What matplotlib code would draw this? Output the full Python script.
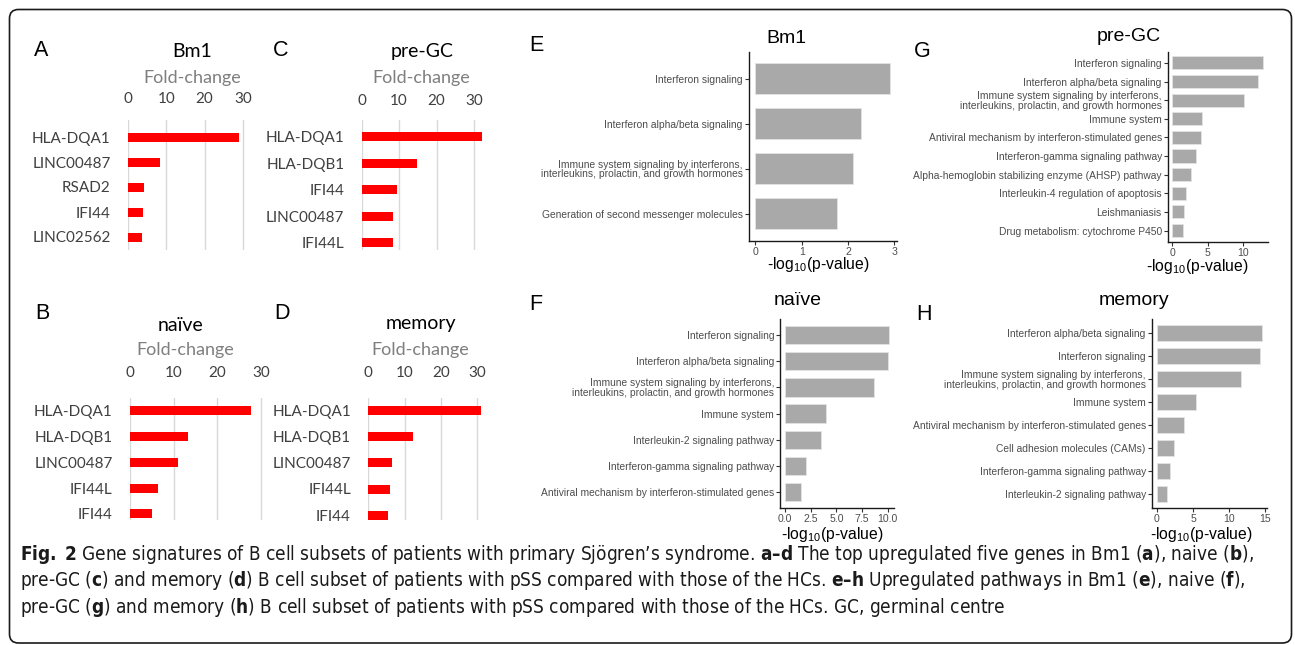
import numpy as np
import matplotlib
matplotlib.use("Agg")
import matplotlib.pyplot as plt
from matplotlib.patches import FancyBboxPatch
from matplotlib.transforms import IdentityTransform

plt.rcParams["mathtext.fontset"] = "custom"
plt.rcParams["mathtext.rm"] = "Liberation Sans"
plt.rcParams["mathtext.it"] = "Liberation Sans:italic"
plt.rcParams["mathtext.bf"] = "DejaVu Sans:weight=bold:stretch=condensed"

# ---------------- data: top upregulated genes (fold-change) ----------------
bm1_genes = ["HLA-DQA1", "LINC00487", "RSAD2", "IFI44", "LINC02562"]
bm1_fc = [29.0, 8.3, 4.2, 3.8, 3.6]

pregc_genes = ["HLA-DQA1", "HLA-DQB1", "IFI44", "LINC00487", "IFI44L"]
pregc_fc = [32.2, 14.7, 9.4, 8.5, 8.5]

naive_genes = ["HLA-DQA1", "HLA-DQB1", "LINC00487", "IFI44L", "IFI44"]
naive_fc = [27.8, 13.4, 11.1, 6.5, 5.1]

memory_genes = ["HLA-DQA1", "HLA-DQB1", "LINC00487", "IFI44L", "IFI44"]
memory_fc = [31.0, 12.4, 6.4, 6.0, 5.3]

fc_ticks = [0, 10, 20, 30]

# ---------------- data: upregulated pathways (-log10 p) ----------------
IMMUNE_SIG = "Immune system signaling by interferons,\ninterleukins, prolactin, and growth hormones"

bm1_paths = ["Interferon signaling", "Interferon alpha/beta signaling", IMMUNE_SIG,
             "Generation of second messenger molecules"]
bm1_logp = [2.91, 2.27, 2.11, 1.76]
bm1_ticks = [0, 1, 2, 3]
bm1_ticklabels = ["0", "1", "2", "3"]

pregc_paths = ["Interferon signaling", "Interferon alpha/beta signaling", IMMUNE_SIG,
               "Immune system", "Antiviral mechanism by interferon-stimulated genes",
               "Interferon-gamma signaling pathway",
               "Alpha-hemoglobin stabilizing enzyme (AHSP) pathway",
               "Interleukin-4 regulation of apoptosis", "Leishmaniasis",
               "Drug metabolism: cytochrome P450"]
pregc_logp = [12.9, 12.2, 10.1, 4.27, 4.1, 3.4, 2.6, 1.95, 1.67, 1.48]
pregc_ticks = [0, 5, 10]
pregc_ticklabels = ["0", "5", "10"]

naive_paths = ["Interferon signaling", "Interferon alpha/beta signaling", IMMUNE_SIG,
               "Immune system", "Interleukin-2 signaling pathway",
               "Interferon-gamma signaling pathway",
               "Antiviral mechanism by interferon-stimulated genes"]
naive_logp = [10.1, 10.0, 8.65, 3.93, 3.5, 2.04, 1.5]
naive_ticks = [0, 2.5, 5, 7.5, 10]
naive_ticklabels = ["0.0", "2.5", "5.0", "7.5", "10.0"]

memory_paths = ["Interferon alpha/beta signaling", "Interferon signaling", IMMUNE_SIG,
                "Immune system", "Antiviral mechanism by interferon-stimulated genes",
                "Cell adhesion molecules (CAMs)", "Interferon-gamma signaling pathway",
                "Interleukin-2 signaling pathway"]
memory_logp = [14.5, 14.3, 11.6, 5.4, 3.7, 2.4, 1.8, 1.45]
memory_ticks = [0, 5, 10, 15]
memory_ticklabels = ["0", "5", "10", "15"]

caption_lines = [
    r"$\mathbf{Fig.\ 2}$ Gene signatures of B cell subsets of patients with primary Sjögren’s syndrome. "
    r"$\mathbf{a–d}$ The top upregulated five genes in Bm1 ($\mathbf{a}$), naive ($\mathbf{b}$),",
    r"pre-GC ($\mathbf{c}$) and memory ($\mathbf{d}$) B cell subset of patients with pSS compared with "
    r"those of the HCs. $\mathbf{e–h}$ Upregulated pathways in Bm1 ($\mathbf{e}$), naive ($\mathbf{f}$),",
    r"pre-GC ($\mathbf{g}$) and memory ($\mathbf{h}$) B cell subset of patients with pSS compared with "
    r"those of the HCs. GC, germinal centre",
]

# ---------------- figure helpers (pixel layout) ----------------
W, H = 1295, 645
fig = plt.figure(figsize=(W / 100, H / 100), dpi=100)
fig.patch.set_facecolor("white")

EXCEL_FONT = "Lato"
GG_FONT = "Liberation Sans"


def px_axes(left, right, top, bottom):
    return fig.add_axes([left / W, 1 - bottom / H, (right - left) / W, (bottom - top) / H])


def ftext(x, y, s, **kw):
    kw.setdefault("va", "baseline")
    return fig.text(x / W, 1 - y / H, s, **kw)


def excel_panel(genes, vals, x0, ppu, xmax, gtop, gbot, row0, step, tickpad):
    ax = px_axes(x0, x0 + ppu * xmax, gtop, gbot)
    n = len(genes)
    y = np.arange(n)
    ax.barh(y, vals, height=9.0 / step, color="#FF0000", zorder=3)
    ax.set_xlim(0, xmax)
    top = -(row0 - gtop) / step
    bot = (n - 1) + (gbot - (row0 + (n - 1) * step)) / step
    ax.set_ylim(bot, top)
    ax.set_yticks(y, genes)
    ax.set_xticks(fc_ticks, [str(t) for t in fc_ticks])
    ax.xaxis.tick_top()
    ax.grid(axis="x", color="#D9D9D9", lw=1.0, zorder=0)
    ax.set_axisbelow(True)
    for s in ax.spines.values():
        s.set_visible(False)
    ax.tick_params(axis="y", length=0, pad=12.5, labelsize=11, labelcolor="#404040")
    ax.tick_params(axis="x", length=0, pad=tickpad, labelsize=11, labelcolor="#404040")
    for lab in ax.get_xticklabels() + ax.get_yticklabels():
        lab.set_fontfamily(EXCEL_FONT)
    ax.set_facecolor("none")
    return ax


def gg_panel(terms, vals, left, right, top, bottom, ticks, ticklabels):
    ax = px_axes(left, right, top, bottom)
    n = len(terms)
    y = np.arange(n)
    ax.barh(y, vals, height=0.7, color="#A9A9A9", edgecolor="#E3E3E3", lw=0.6)
    m = max(vals)
    ax.set_xlim(-0.05 * m, 1.05 * m)
    ax.set_ylim(n - 1 + 0.6, -0.6)
    ax.set_yticks(y, terms)
    ax.set_xticks(ticks, ticklabels)
    for side in ("top", "right"):
        ax.spines[side].set_visible(False)
    for side in ("left", "bottom"):
        ax.spines[side].set_color("#1A1A1A")
        ax.spines[side].set_linewidth(1.0)
    ax.tick_params(length=2.6, width=0.8, color="#333333", pad=1.6,
                   labelsize=7.4, labelcolor="#4D4D4D")
    ax.tick_params(axis="x", labelsize=7.6)
    for lab in ax.get_xticklabels() + ax.get_yticklabels():
        lab.set_fontfamily(GG_FONT)
        lab.set_linespacing(0.95)
    ax.set_facecolor("none")
    return ax


# ---------------- gene fold-change panels ----------------
excel_panel(bm1_genes, bm1_fc, 128, 3.833, 31, 120, 250, 137, 25, 10.3)
excel_panel(pregc_genes, pregc_fc, 361.7, 3.74, 33.5, 120, 250, 136.7, 26.5, 8.6)
excel_panel(naive_genes, naive_fc, 130, 4.36, 31, 398, 520, 410.7, 25.8, 13.2)
excel_panel(memory_genes, memory_fc, 368.3, 3.63, 32.5, 398, 520, 410.7, 26.1, 12.7)

for (x, y, s) in [(192.3, 56.7, "Bm1"), (422.3, 56.7, "pre-GC"),
                  (180.7, 330.7, "naïve"), (420.7, 329.3, "memory")]:
    ftext(x, y, s, ha="center", fontsize=14, family=EXCEL_FONT, color="black")
for (x, y) in [(192.3, 82.7), (421.7, 83.3), (185.3, 355), (420.7, 355)]:
    ftext(x, y, "Fold-change", ha="center", fontsize=13, family=EXCEL_FONT, color="#7F7F7F")

# ---------------- pathway panels ----------------
gg_panel(bm1_paths, bm1_logp, 748.7, 897, 51.7, 240.7, bm1_ticks, bm1_ticklabels)
gg_panel(pregc_paths, pregc_logp, 1167.7, 1268, 51.7, 241.7, pregc_ticks, pregc_ticklabels)
gg_panel(naive_paths, naive_logp, 780, 894, 319.3, 508, naive_ticks, naive_ticklabels)
gg_panel(memory_paths, memory_logp, 1151.7, 1267, 319.3, 508, memory_ticks, memory_ticklabels)

for (x, y, s) in [(786.3, 42.7, "Bm1"), (1129, 41, "pre-GC"),
                  (797.3, 305, "naïve"), (1134, 305, "memory")]:
    ftext(x, y, s, ha="center", fontsize=14, family=GG_FONT, color="black")
for (x, y) in [(818.3, 269), (1197.3, 271), (832.3, 539), (1200.7, 539)]:
    ftext(x, y, r"-log$_{10}$(p-value)", ha="center", fontsize=11.3, family=GG_FONT,
          color="black")

# ---------------- panel letters ----------------
for (x, y, s) in [(34, 56, "A"), (273.3, 56, "C"), (35, 319.3, "B"), (274, 319.3, "D"),
                  (529.3, 50.7, "E"), (914, 56.7, "G"), (529.3, 310, "F"), (916, 320, "H")]:
    ftext(x, y, s, ha="left", fontsize=15.5, family=GG_FONT, color="black")

# ---------------- caption ----------------
cap_texts = []
for (y, line) in zip([560, 586.5, 613], caption_lines):
    cap_texts.append(ftext(20, y, line, ha="left", fontsize=13, family="DejaVu Sans",
                           fontstretch="condensed", color="#1A1A1A"))
fig.canvas.draw()
renderer = fig.canvas.get_renderer()
w1 = cap_texts[0].get_window_extent(renderer).width
size = 13 * (1228.0 / w1)
for t in cap_texts:
    t.set_fontsize(size)

# ---------------- rounded frame ----------------
frame = FancyBboxPatch((9.5, H - 643), 1282, 643 - 9.5,
                       boxstyle="round,pad=0,rounding_size=9",
                       fill=False, edgecolor="#1A1A1A", lw=1.2,
                       transform=IdentityTransform())
fig.add_artist(frame)

fig.savefig("out.png", dpi=100, facecolor="white")
